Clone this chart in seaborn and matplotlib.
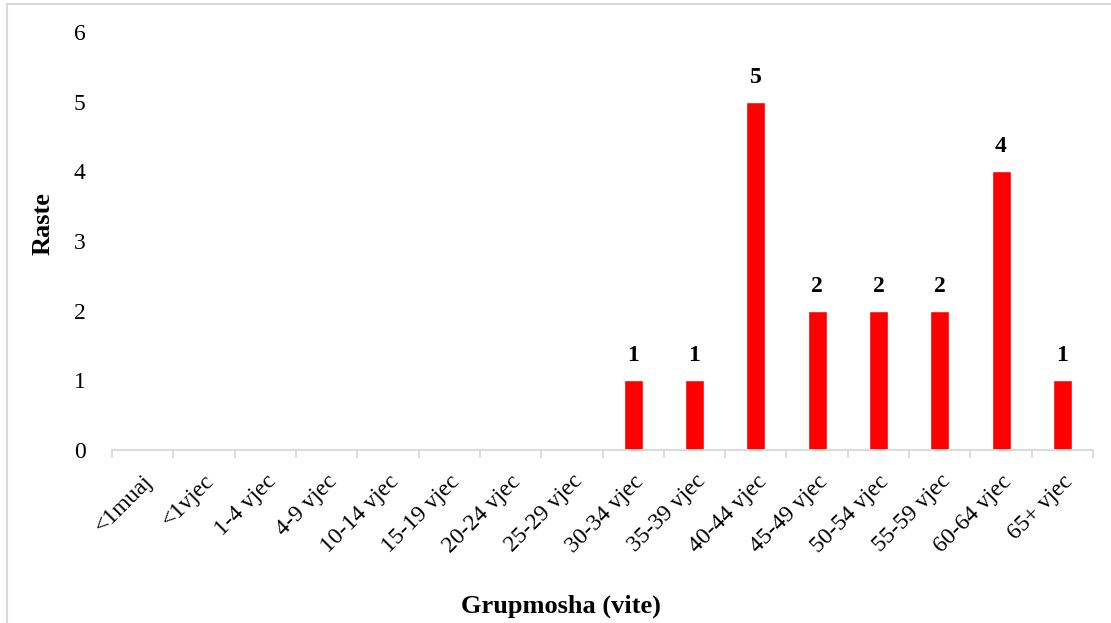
import matplotlib.pyplot as plt
import numpy as np
import seaborn as sb
from matplotlib.patches import Rectangle

categories = ["<1muaj", "<1vjec", "1-4 vjec", "4-9 vjec", "10-14 vjec", "15-19 vjec",
              "20-24 vjec", "25-29 vjec", "30-34 vjec", "35-39 vjec", "40-44 vjec",
              "45-49 vjec", "50-54 vjec", "55-59 vjec", "60-64 vjec", "65+ vjec"]
cases = [0, 0, 0, 0, 0, 0, 0, 0, 1, 1, 5, 2, 2, 2, 4, 1]
yTicks = [0, 1, 2, 3, 4, 5, 6]

sb.set_style("white")
plt.rcParams["font.family"] = ["Liberation Serif", "DejaVu Serif"]
plt.rcParams["text.color"] = "black"
plt.rcParams["xtick.color"] = "black"
plt.rcParams["ytick.color"] = "black"

fig = plt.figure(figsize=(11.11, 6.23), dpi=100)
ax = fig.add_axes([112 / 1111, 1 - 450 / 623, 981 / 1111, 418 / 623])

sb.barplot(x=categories, y=cases, color="#ff0000", width=0.31, saturation=1, ax=ax)

# value labels only on non-zero bars
for i, v in enumerate(cases):
    if v > 0:
        ax.text(i, v + 0.2, str(v), ha="center", va="bottom", fontsize=17, fontweight="bold")

ax.set_ylim(0, 6)
ax.set_xlim(-0.5, len(categories) - 0.5)
ax.set_yticks(yTicks)
ax.tick_params(axis="y", length=0, pad=19, labelsize=17, labelcolor="black")

ax.set_xticks(range(len(categories)))
ax.set_xticklabels(categories, rotation=45, ha="right", rotation_mode="anchor", fontsize=17)
ax.tick_params(axis="x", which="major", length=0, pad=15, labelcolor="black")
ax.set_xticks(np.arange(-0.5, len(categories)), minor=True)
ax.tick_params(axis="x", which="minor", bottom=True, length=6, width=1.3,
               color="#d9d9d9", direction="out")

for s in ["left", "right", "top"]:
    ax.spines[s].set_visible(False)
ax.spines["bottom"].set_color("#d9d9d9")
ax.spines["bottom"].set_linewidth(1.3)
ax.set_xlabel("")
ax.set_ylabel("")

fig.text(43 / 1111, 1 - 224 / 623, "Raste", rotation=90, ha="center", va="center",
         fontsize=19, fontweight="bold")
fig.text(561 / 1111, 1 - 606 / 623, "Grupmosha (vite)", ha="center", va="center",
         fontsize=19, fontweight="bold")

# light chart-area border (left and top visible)
fig.patches.append(Rectangle((7 / 1111, -0.2), 1.2, 1.2 - 3.5 / 623, transform=fig.transFigure,
                             fill=False, edgecolor="#d9d9d9", linewidth=1.5))

fig.savefig("out.png", dpi=100)
